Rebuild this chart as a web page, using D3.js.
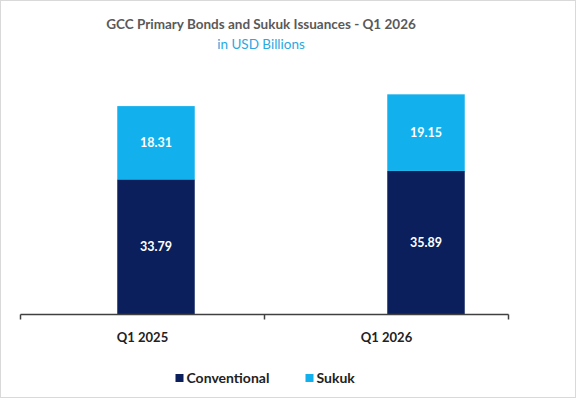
<!DOCTYPE html>
<html>
<head>
<meta charset="utf-8">
<script src="https://cdn.jsdelivr.net/npm/d3@7"></script>
<style>
  html, body { margin: 0; padding: 0; background: #fff; }
  svg { display: block; font-family: Lato, "Open Sans", sans-serif; }
</style>
</head>
<body>
<svg width="576" height="398"></svg>
<script>
// chart data
const quarters = ["Q1 2025", "Q1 2026"];
const conventional = [33.79, 35.89];
const sukuk = [18.31, 19.15];
const seriesNames = ["Conventional", "Sukuk"];
const seriesColors = ["#0b1f5c", "#12b0ec"];

const svg = d3.select("svg");
const width = +svg.attr("width");
const height = +svg.attr("height");

// outer frame
svg.append("rect")
	.attr("x", 0.5).attr("y", 0.5)
	.attr("width", width - 1).attr("height", height - 1)
	.attr("fill", "#fff")
	.attr("stroke", "#d9d9d9");

// title
svg.append("text")
	.attr("x", 261).attr("y", 29)
	.attr("text-anchor", "middle")
	.attr("font-size", "13.5px")
	.attr("font-weight", "bold")
	.attr("fill", "#595959")
	.text("GCC Primary Bonds and Sukuk Issuances - Q1 2026");

svg.append("text")
	.attr("x", 261).attr("y", 49)
	.attr("text-anchor", "middle")
	.attr("font-size", "13.5px")
	.attr("fill", "#2aa8df")
	.text("in USD Billions");

// stack the two series
const rows = quarters.map((q, i) => ({quarter: q, Conventional: conventional[i], Sukuk: sukuk[i]}));
const stacked = d3.stack().keys(seriesNames)(rows);

const y = d3.scaleLinear()
	.domain([0, 60])
	.range([314.5, 74.5]);

// category axis (labels and ticks)
const x = d3.scaleBand()
	.domain(quarters)
	.range([20.5, 508.5]);

// bar positions (bars sit a bit to the right of the label slots in the source)
const xBar = d3.scaleBand()
	.domain(quarters)
	.range([21, 561]);
const barWidth = xBar.bandwidth() * 0.287;

const colour = d3.scaleOrdinal().domain(seriesNames).range(seriesColors);

const layers = svg.append("g").attr("class", "bars")
	.selectAll("g")
	.data(stacked)
	.join("g")
		.attr("fill", d => colour(d.key));

layers.selectAll("rect")
	.data(d => d)
	.join("rect")
		.attr("x", d => xBar(d.data.quarter) + xBar.bandwidth() / 2 - barWidth / 2)
		.attr("y", d => y(d[1]))
		.attr("width", barWidth)
		.attr("height", d => y(d[0]) - y(d[1]));

// value labels inside the segments
layers.selectAll("text")
	.data(d => d.map(p => ({p, value: p.data[d.key]})))
	.join("text")
		.attr("x", d => xBar(d.p.data.quarter) + xBar.bandwidth() / 2)
		.attr("y", d => (y(d.p[0]) + y(d.p[1])) / 2)
		.attr("dy", "0.35em")
		.attr("text-anchor", "middle")
		.attr("font-size", "12.5px")
		.attr("font-weight", "bold")
		.attr("fill", "#fff")
		.text(d => d.value.toFixed(2));

// x axis: line with ticks on the band edges
const axis = svg.append("g").attr("class", "x-axis");
axis.append("line")
	.attr("x1", x.range()[0]).attr("x2", x.range()[1])
	.attr("y1", y(0)).attr("y2", y(0))
	.attr("stroke", "#404040")
	.attr("stroke-width", 1.5);

const edges = quarters.map(q => x(q)).concat([x.range()[1]]);
axis.selectAll(".tick")
	.data(edges)
	.join("line")
		.attr("class", "tick")
		.attr("x1", d => d).attr("x2", d => d)
		.attr("y1", y(0)).attr("y2", y(0) + 5)
		.attr("stroke", "#404040")
		.attr("stroke-width", 1.5);

axis.selectAll(".cat")
	.data(quarters)
	.join("text")
		.attr("class", "cat")
		.attr("x", d => x(d) + x.bandwidth() / 2)
		.attr("y", 342)
		.attr("text-anchor", "middle")
		.attr("font-size", "13px")
		.attr("font-weight", "bold")
		.attr("fill", "#222")
		.text(d => d);

// legend
const legendX = [175.5, 305.5];
const legend = svg.append("g").attr("class", "legend")
	.selectAll("g")
	.data(seriesNames)
	.join("g")
		.attr("transform", (d, i) => `translate(${legendX[i]},378)`);

legend.append("rect")
	.attr("x", 0).attr("y", -4)
	.attr("width", 8).attr("height", 8)
	.attr("fill", d => colour(d));

legend.append("text")
	.attr("x", 11).attr("y", 0)
	.attr("dy", "0.35em")
	.attr("font-size", "14px")
	.attr("font-weight", "bold")
	.attr("fill", "#222")
	.text(d => d);
</script>
</body>
</html>
